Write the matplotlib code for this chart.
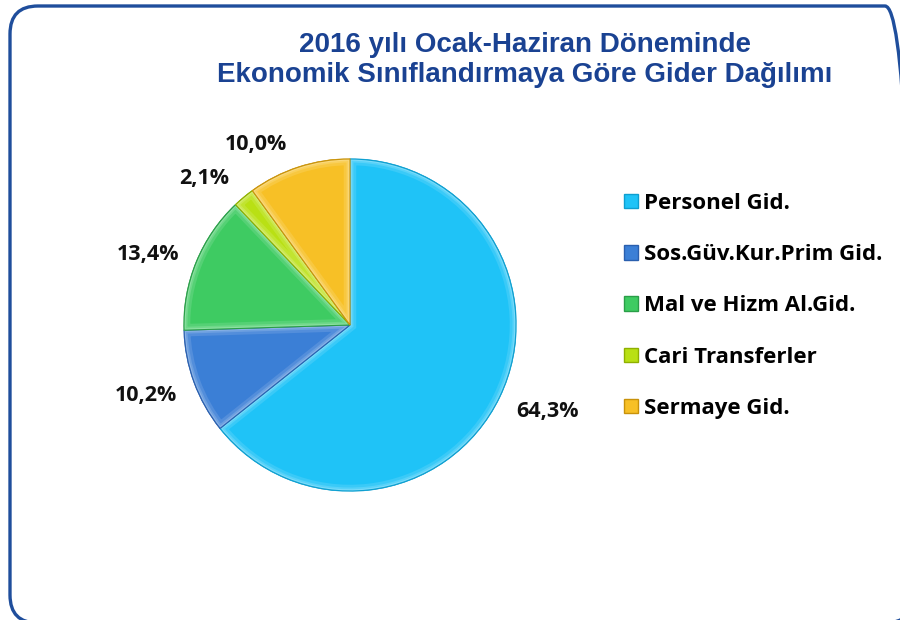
import numpy as np
import matplotlib.pyplot as plt
from matplotlib.patches import FancyBboxPatch, Patch, Wedge
from matplotlib.colors import to_rgb
from matplotlib.transforms import IdentityTransform

plt.rcParams['font.family'] = ['Open Sans', 'DejaVu Sans']

categories = ['Personel Gid.', 'Sos.Güv.Kur.Prim Gid.', 'Mal ve Hizm Al.Gid.',
              'Cari Transferler', 'Sermaye Gid.']
shares = [64.3, 10.2, 13.4, 2.1, 10.0]
colors = ['#1fc3f7', '#3b7fd6', '#3ecb62', '#b9e014', '#f7c026']
edges = ['#0e9fd0', '#2a5fae', '#2a9e48', '#8fb000', '#c8920a']
title = '2016 yılı Ocak-Haziran Döneminde\nEkonomik Sınıflandırmaya Göre Gider Dağılımı'

# label placement (best-fit style): radius and angular nudge per slice
label_r = [1.30, 1.30, 1.29, 1.245, 1.225]
label_nudge = [2, -1, 3, 5, 9.5]


def lighten(c, k):
    r, g, b = to_rgb(c)
    return (r + (1 - r) * k, g + (1 - g) * k, b + (1 - b) * k)


fig = plt.figure(figsize=(9, 6.2), dpi=100)

# rounded frame, right and bottom edges run off the canvas
frame = FancyBboxPatch((10, 620 - 623), 903, 617,
                       boxstyle='round,pad=0,rounding_size=28',
                       transform=IdentityTransform(), fill=False,
                       edgecolor='#1f4e9c', linewidth=2.4)
fig.patches.append(frame)

fig.text(525 / 900, 1 - 60 / 620, title, ha='center', va='center', fontsize=20,
         fontweight='bold', color='#1a4292', family='Liberation Sans',
         linespacing=1.16)

ax = fig.add_axes([(350 - 166) / 900, (620 - 491) / 620, 332 / 900, 332 / 620])
wedges, _ = ax.pie(shares, colors=colors, startangle=90, counterclock=False,
                   wedgeprops=dict(linewidth=1.0, edgecolor='white'))
for w, c, ec, share, r, nd in zip(wedges, colors, edges, shares, label_r, label_nudge):
    w.set_edgecolor(ec)
    # soft bevel along the slice border
    for lw, k in [(9, 0.12), (5, 0.25), (2.5, 0.4)]:
        rim = Wedge(w.center, w.r, w.theta1, w.theta2, facecolor='none',
                    edgecolor=lighten(c, k), linewidth=lw)
        ax.add_patch(rim)
        rim.set_clip_path(w)
    outline = Wedge(w.center, w.r, w.theta1, w.theta2, facecolor='none',
                    edgecolor=ec, linewidth=0.8)
    ax.add_patch(outline)
    mid = np.deg2rad((w.theta1 + w.theta2) / 2 + nd)
    ax.text(r * np.cos(mid), r * np.sin(mid), f'{share:.1f}%'.replace('.', ','),
            ha='center', va='center', fontsize=15.5, fontweight='bold',
            color='#111111')
ax.set_xlim(-1, 1)
ax.set_ylim(-1, 1)
ax.set_aspect('equal')

handles = [Patch(facecolor=c, edgecolor=e, linewidth=1) for c, e in zip(colors, edges)]
leg = fig.legend(handles, categories, loc='upper left',
                 bbox_to_anchor=(604 / 900, 1 - 173 / 620),
                 frameon=False, handlelength=0.62, handleheight=0.62,
                 handletextpad=0.3, labelspacing=1.36,
                 prop=dict(family='Open Sans', weight='bold', size=16))

fig.savefig('out.png', dpi=100)
